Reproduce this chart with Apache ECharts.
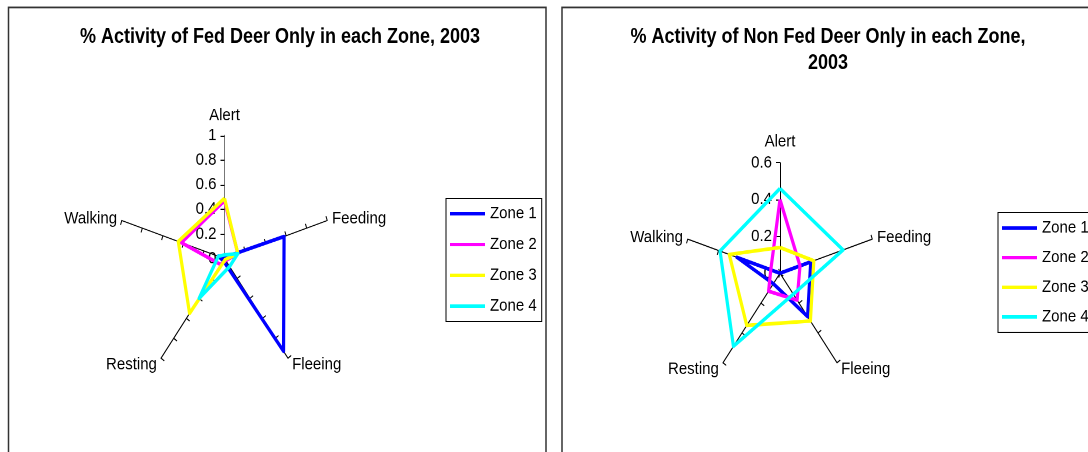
<!DOCTYPE html>
<html>
<head>
<meta charset="utf-8">
<script src="https://cdn.jsdelivr.net/npm/echarts@6/dist/echarts.min.js"></script>
<style>
  html, body { margin: 0; padding: 0; background: #fff; overflow: hidden; width: 1088px; height: 452px; }
  #wrap { width: 1088px; height: 452px; overflow: hidden; position: relative; }
  #chart { position: absolute; left: 0; top: 0; width: 1088px; height: 397px; transform: scaleY(1.14); transform-origin: 0 0; }
</style>
</head>
<body>
<div id="wrap"><div id="chart"></div></div>
<script>
// axes in the order they appear, clockwise from the top
const categories = ['Alert', 'Feeding', 'Fleeing', 'Resting', 'Walking'];
const zones = ['Zone 1', 'Zone 2', 'Zone 3', 'Zone 4'];
const zoneColors = ['#0000ff', '#ff00ff', '#ffff00', '#00ffff'];

// Fed deer
const fedMax = 1;
const fedSplit = 5;
const fedZone1 = [0.01, 0.58, 0.93, 0.02, 0.06];
const fedZone2 = [0.47, 0.13, 0.02, 0.06, 0.42];
const fedZone3 = [0.49, 0.13, 0.01, 0.55, 0.45];
const fedZone4 = [0.03, 0.13, 0.08, 0.40, 0.06];

// Non fed deer
const nonFedMax = 0.6;
const nonFedSplit = 3;
const nonFedZone1 = [0.00, 0.20, 0.29, 0.07, 0.28];
const nonFedZone2 = [0.40, 0.13, 0.18, 0.12, 0.06];
const nonFedZone3 = [0.14, 0.22, 0.32, 0.35, 0.33];
const nonFedZone4 = [0.46, 0.41, 0.14, 0.49, 0.39];

const fedTitle = '% Activity of Fed Deer Only in each Zone, 2003';
const nonFedTitle = '% Activity of Non Fed Deer Only in each Zone,\n2003';

// echarts lays radar axes out counter-clockwise, so flip the order
const order = [0, 4, 3, 2, 1];
const reorder = arr => order.map(i => arr[i]);

const font = '"Liberation Sans", Arial, sans-serif';

function indicators(max, alertGap, alertAxisColor) {
  return reorder(categories).map(name => {
    const ind = { text: name, max: max, min: 0 };
    if (name === 'Alert') {
      ind.nameGap = alertGap;
      ind.axisLabel = { show: true };
      ind.axisLine = { lineStyle: { color: alertAxisColor } };
    } else if (name === 'Fleeing' || name === 'Resting') {
      ind.nameGap = 7;
    }
    return ind;
  });
}

function radarOpt(center, radius, max, split, alertGap, alertAxisColor) {
  return {
    center: center,
    radius: radius,
    startAngle: 90,
    splitNumber: split,
    shape: 'polygon',
    nameGap: 5,
    indicator: indicators(max, alertGap, alertAxisColor),
    axisName: { color: '#000', fontSize: 15, fontFamily: font },
    axisLine: { lineStyle: { color: '#000', width: 1 } },
    axisTick: { show: true, length: 4, lineStyle: { color: '#000', width: 1 } },
    axisLabel: {
      show: false, color: '#000', fontSize: 15, fontFamily: font, margin: 8,
      formatter: v => String(Math.round(v * 10) / 10)
    },
    splitLine: { show: false },
    splitArea: { show: false }
  };
}

function zoneSeries(radarIndex, datasets) {
  return zones.map((z, i) => ({
    name: z,
    type: 'radar',
    radarIndex: radarIndex,
    symbol: 'none',
    z: 2 + i,
    lineStyle: { color: zoneColors[i], width: 3.2 },
    itemStyle: { color: zoneColors[i] },
    data: [{ value: reorder(datasets[i]), name: z }]
  }));
}

function legendOpt(left, top, gap) {
  return {
    data: zones,
    orient: 'vertical',
    left: left,
    top: top,
    icon: 'rect',
    itemWidth: 35,
    itemHeight: 3,
    itemGap: gap,
    padding: [6, 5, 6, 4],
    borderColor: '#000',
    borderWidth: 1,
    textStyle: { color: '#000', fontSize: 15, fontFamily: font, lineHeight: 15 }
  };
}

const myChart = echarts.init(document.getElementById('chart'), null, { devicePixelRatio: 2 });
myChart.setOption({
  animation: false,
  title: [
    {
      text: fedTitle, left: 280, top: 23.5, textAlign: 'center', padding: 0,
      textStyle: { color: '#000', fontSize: 18, fontWeight: 'bold', fontFamily: font, lineHeight: 18 }
    },
    {
      text: nonFedTitle, left: 828, top: 21, textAlign: 'center', padding: 0,
      textStyle: { color: '#000', fontSize: 18, fontWeight: 'bold', fontFamily: font, lineHeight: 23 }
    }
  ],
  legend: [legendOpt(446, 174, 12), legendOpt(998, 186.5, 11)],
  radar: [
    radarOpt([224.5, 226.8], 108, fedMax, fedSplit, 10, '#777'),
    radarOpt([780, 239.7], 97, nonFedMax, nonFedSplit, 11, '#000')
  ],
  series: zoneSeries(0, [fedZone1, fedZone2, fedZone3, fedZone4])
    .concat(zoneSeries(1, [nonFedZone1, nonFedZone2, nonFedZone3, nonFedZone4])),
  graphic: [
    { type: 'rect', shape: { x: 8.5, y: 6.5, width: 537.5, height: 500 },
      style: { fill: 'none', stroke: '#333', lineWidth: 1.5 }, silent: true },
    { type: 'rect', shape: { x: 562, y: 6.5, width: 540, height: 500 },
      style: { fill: 'none', stroke: '#333', lineWidth: 1.5 }, silent: true }
  ]
});
</script>
</body>
</html>
